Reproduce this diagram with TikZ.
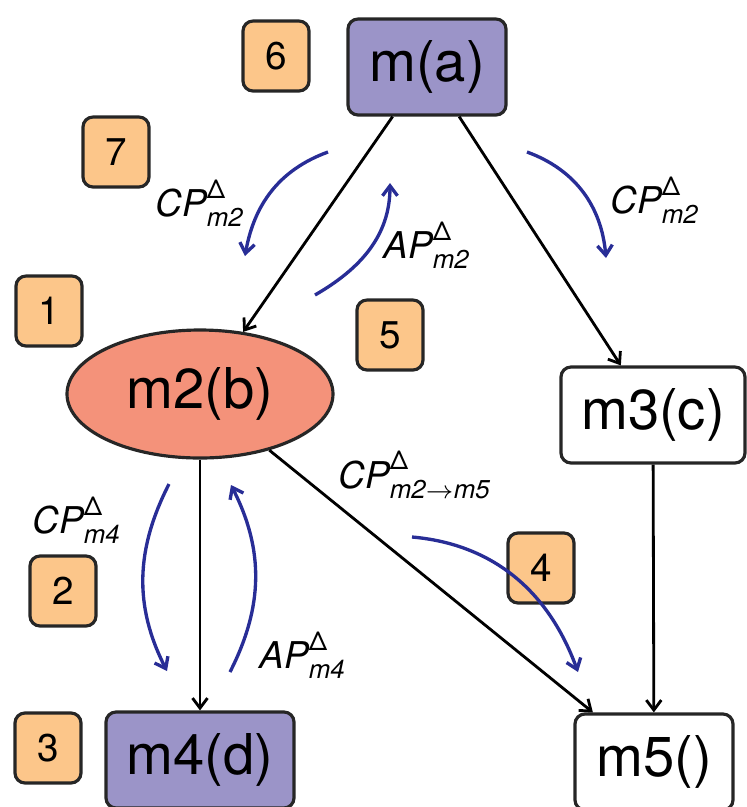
\documentclass[tikz,border=0pt]{standalone}
\usepackage{fontspec}
\usepackage{amsmath}
\setmainfont{TeX Gyre Heros}
\usepackage{tikz}
\usetikzlibrary{arrows.meta,shapes.geometric}
\usetikzlibrary{positioning}
\definecolor{modpurple}{RGB}{155,148,200}
\definecolor{modsalmon}{RGB}{244,146,122}
\definecolor{steporange}{RGB}{252,198,138}
\definecolor{propblue}{RGB}{40,45,150}
\tikzset{
    module/.style={
           rectangle,
           rounded corners=1mm,
           draw=black!85, line width=0.9pt,
           minimum width=1.58cm,
           minimum height=0.96cm,
           inner sep=2pt,
           font=\fontsize{16}{18}\selectfont,
           text centered,
           },
}
\tikzset{
    entry/.style={
           ellipse,
           draw=black!85, line width=0.9pt,
           fill=modsalmon,
           minimum width=2.66cm,
           minimum height=1.28cm,
           inner sep=0pt,
           font=\fontsize{16}{18}\selectfont,
           },
}
\tikzset{
    stepnum/.style={
           rectangle,
           rounded corners=1mm,
           draw=black!85, line width=0.9pt,
           fill=steporange,
           minimum width=0.66cm,
           minimum height=0.70cm,
           font=\fontsize{11}{13}\selectfont,
           },
}
\tikzset{
    prop/.style={
           -{Straight Barb[length=1mm,width=1.5mm]},
           draw=propblue, line width=0.95pt,
           },
    plabel/.style={
           inner sep=0pt,
           font=\fontsize{10.5}{12}\selectfont,
           },
}

\begin{document}
\begin{tikzpicture}[-{Straight Barb[length=1mm,width=1.5mm]}, line width=0.8pt]

 \useasboundingbox (0,0) rectangle (7.47,-8.07);

 \node[entry] (MB) at (2.00,-3.94)
 {m2(b)};

 \node[module,
  fill=modpurple,
  node distance=2.27cm,
  right of=MB,
  yshift=+3.27cm] (MA)
 {m(a)};

 \node[module,
  node distance=4.53cm,
  right of=MB,
  yshift=-0.21cm,
  minimum width=1.84cm] (MC)
 {m3(c)};

 \node[module,
  fill=modpurple,
  node distance=3.66cm,
  below of=MB,
  minimum width=1.88cm] (MD)
 {m4(d)};

 \node[module,
  node distance=3.47cm,
  below of=MC,
  xshift=0.01cm] (ME)
 {m5()};

 % numbered steps
 \node[stepnum] (S6) at (2.76,-0.56) {6};
 \node[stepnum] (S7) at (1.16,-1.52) {7};
 \node[stepnum] (S1) at (0.49,-3.11) {1};
 \node[stepnum] (S5) at (3.90,-3.35) {5};
 \node[stepnum] (S4) at (5.41,-5.68) {4};
 \node[stepnum] (S2) at (0.63,-5.91) {2};
 \node[stepnum] (S3) at (0.48,-7.48) {3};

 \path (MA) edge (MB)
       (MA) edge (MC)
       (MB) edge (MD)
       (MB) edge (ME)
       (MC) edge (ME)
;

 % propagation arrows
 \coordinate (cpAs) at (3.28,-1.52);
 \coordinate (cpAe) at (2.45,-2.56);
 \coordinate (apAs) at (3.15,-2.95);
 \coordinate (apAe) at (3.90,-1.83);
 \coordinate (cpCs) at (5.27,-1.52);
 \coordinate (cpCe) at (6.06,-2.58);
 \coordinate (cpDs) at (1.69,-4.84);
 \coordinate (cpDe) at (1.67,-6.71);
 \coordinate (apDs) at (2.30,-6.72);
 \coordinate (apDe) at (2.31,-4.85);
 \coordinate (cpEs) at (4.12,-5.37);
 \coordinate (cpEe) at (5.78,-6.72);

 \draw[prop] (cpAs) to[out=200,in=80] (cpAe);
 \draw[prop] (apAs) to[out=30,in=270] (apAe);
 \draw[prop] (cpCs) to[out=-20,in=95] (cpCe);
 \draw[prop] (cpDs) to[out=243,in=117] (cpDe);
 \draw[prop] (apDs) to[out=63,in=297] (apDe);
 \draw[prop] (cpEs) to[out=-5,in=110] (cpEe);

 \node[plabel] (LcpA) at (2.00,-2.03) {$\textit{CP}^{\text{Δ}}_{\textit{m2}}$};
 \node[plabel] (LapA) at (4.27,-2.45) {$\textit{AP}^{\text{Δ}}_{\textit{m2}}$};
 \node[plabel] (LcpC) at (6.55,-2.00) {$\textit{CP}^{\text{Δ}}_{\textit{m2}}$};
 \node[plabel] (LcpD) at (0.77,-5.20) {$\textit{CP}^{\text{Δ}}_{\textit{m4}}$};
 \node[plabel] (LapD) at (3.03,-6.55) {$\textit{AP}^{\text{Δ}}_{\textit{m4}}$};
 \node[plabel] (LcpE) at (4.15,-4.75) {$\textit{CP}^{\text{Δ}}_{\textit{m2}\rightarrow\textit{m5}}$};

\end{tikzpicture}
\end{document}
